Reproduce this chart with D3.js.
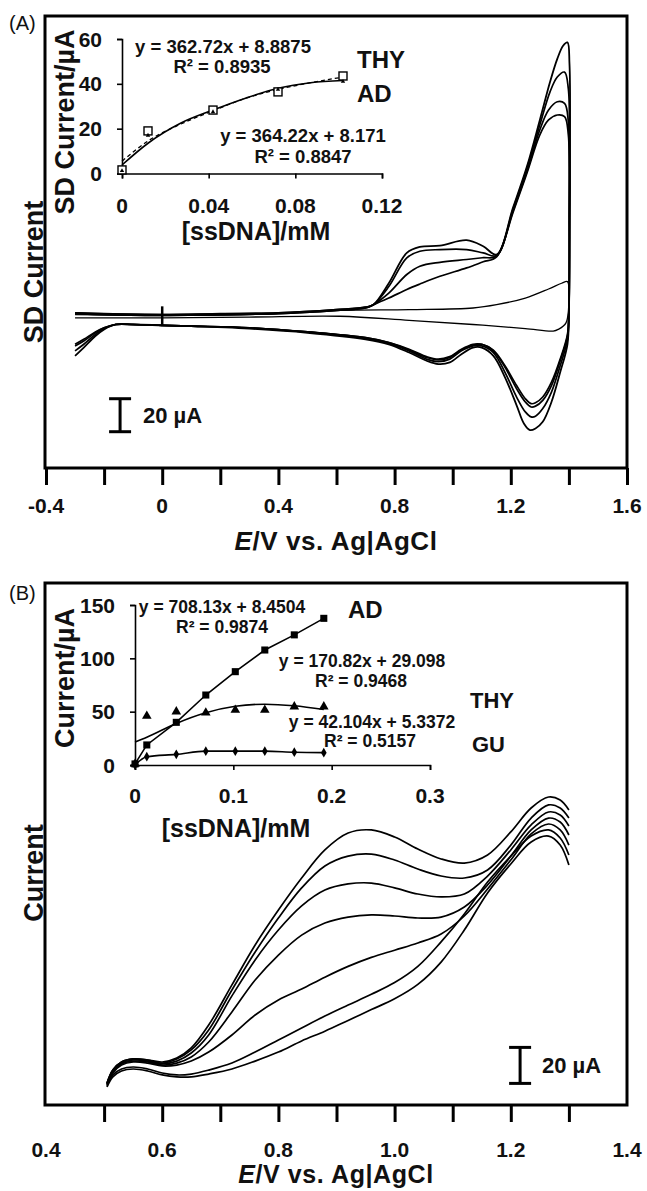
<!DOCTYPE html>
<html><head><meta charset="utf-8">
<script src="https://cdn.jsdelivr.net/npm/d3@7"></script>
<style>body{margin:0;background:#fff}svg{display:block}text{font-family:"Liberation Sans",Arial,Helvetica,sans-serif;fill:#111}</style>
</head><body><svg id="c" width="647" height="1191"></svg>
<script>
// ---------- Panel A: cyclic voltammograms (E in V, I in µA, scale bar 20 µA) ----------
const cv1E = [-0.30,-0.20,0.00,0.20,0.40,0.60,0.70,0.727,0.78,0.842,0.887,0.956,1.048,1.105,1.151,1.208,1.256,1.30,1.335,1.36,1.38,1.395,1.402,1.404,1.403,1.40,1.395,1.37,1.34,1.31,1.285,1.266,1.245,1.22,1.18,1.14,1.10,1.07,1.03,0.99,0.95,0.91,0.85,0.78,0.70,0.50,0.30,0.10,0.00,-0.10,-0.16,-0.20,-0.23,-0.27,-0.30];
const cv1I = [4,3.5,3,3.5,4,6,7.5,9,22,40.4,44,44.8,48.1,44.4,39.4,68,93,121,144,158,166,168,155,110,50,5,-15,-32,-50,-62,-66,-67,-63,-52,-35,-22,-17,-17,-21,-26,-27,-25,-20,-15,-12,-8,-5.5,-4,-3.5,-3,-3,-6,-10,-17,-22];
const cv2E = [-0.30,-0.20,0.00,0.20,0.40,0.60,0.70,0.727,0.78,0.842,0.887,0.956,1.048,1.105,1.151,1.208,1.256,1.30,1.335,1.36,1.385,1.398,1.402,1.402,1.40,1.395,1.37,1.34,1.31,1.285,1.27,1.25,1.22,1.18,1.14,1.10,1.07,1.03,0.99,0.95,0.91,0.85,0.78,0.70,0.50,0.30,0.10,0.00,-0.10,-0.16,-0.20,-0.23,-0.27,-0.30];
const cv2I = [4,3.5,3,3.5,4,6,7.5,9,20,37.4,41.4,42.4,42.4,40.4,38.8,67,92,118,138,147,150,140,100,40,5,-12,-28,-44,-54,-58.6,-59,-56,-47,-32,-20,-16,-16,-19,-24,-25.5,-24,-19,-14.5,-11.5,-7.5,-5,-4,-3.5,-3,-3,-5.5,-9,-15,-19];
const cv3E = [-0.30,-0.20,0.00,0.20,0.40,0.60,0.70,0.727,0.78,0.842,0.887,0.956,1.048,1.105,1.151,1.208,1.256,1.30,1.33,1.36,1.385,1.398,1.401,1.40,1.395,1.37,1.34,1.31,1.285,1.27,1.25,1.22,1.18,1.14,1.10,1.07,1.03,0.99,0.95,0.91,0.85,0.78,0.70,0.50,0.30,0.10,0.00,-0.10,-0.16,-0.20,-0.23,-0.27,-0.30];
const cv3I = [3.5,3,2.5,3,3.5,5.5,7,9,16,27.3,32.3,34.7,36.4,37.5,38.4,66,90,115,127,132,131,120,60,5,-10,-25,-40,-49,-52.5,-53,-50,-42,-29,-19,-15,-15.5,-18.5,-23,-24.5,-23,-18.5,-14,-11,-7.5,-5,-4,-3.5,-3,-3,-5,-8,-13,-16];
const cv4E = cv3E;
const cv4I = [3.5,3,2.5,3,3.5,5.5,7,9,13,18.2,21.5,26.2,31.3,35,38,65,89,112,121,124,123,112,60,5,-9,-24,-38,-47,-50.5,-51,-48,-40,-28,-18.5,-15,-15,-18,-22.5,-24,-22.5,-18,-14,-11,-7.5,-5,-4,-3.5,-3,-3,-5,-7.5,-12,-15];
const blankE = [-0.30,0.00,0.30,0.612,0.85,1.07,1.151,1.25,1.33,1.375,1.395,1.40,1.39,1.363,1.346,1.25,1.07,0.85,0.612,0.30,0.00,-0.30];
const blankI = [3,2.5,3,5.5,6,7,9,13,18.5,22,23,15,-2,-6,-7,-5.5,-3,-0.5,2,1.5,1,1];
const axisA_ticks = [-0.4,-0.2,0,0.2,0.4,0.6,0.8,1.0,1.2,1.4,1.6];
const axisA_labels = [-0.4,0,0.4,0.8,1.2,1.6];

// ---------- Panel A inset ----------
const insA_x = [0,0.012,0.042,0.072,0.102];
const insA_THY = [1.6,19,28.3,36.4,43.5];
const insA_AD = [1.2,17,27.5,37.5,41];
const insA_fitX = [0,0.012,0.027,0.042,0.057,0.072,0.087,0.102];
const insA_fitSolid = [3.8,13.5,22.4,28.3,33.6,38,40.5,41.5];
const insA_fitDash = [5.5,14.5,22,28,33.5,37.5,40.5,43];
const insA_xticks = [0,0.04,0.08,0.12];
const insA_yticks = [0,20,40,60];

// ---------- Panel B: voltammograms (E in V, I in µA) ----------
const dpvE = [0.505,0.515,0.53,0.55,0.575,0.60,0.625,0.65,0.68,0.72,0.76,0.80,0.84,0.88,0.92,0.96,1.0,1.04,1.08,1.12,1.16,1.20,1.235,1.265,1.285,1.30];
const dpvA = [11.7,19.4,23.9,25.6,25.0,23.9,26.1,31.7,44.4,66.7,88.9,108.3,126.1,141.7,151.1,152.8,148.9,142.2,136.7,134.4,138.9,151.7,165.0,171.1,169.4,163.9];
const dpvB = [12.2,19.4,23.9,25.6,25.0,23.3,25.6,30.6,41.7,63.9,85.0,103.9,120.6,132.8,138.3,139.4,136.1,131.1,127.2,126.1,130.6,144.4,159.4,166.7,165.0,159.4];
const dpvC = [12.2,18.9,23.3,25.0,24.4,22.8,24.4,28.9,38.9,60.6,80.6,97.2,110.6,119.4,122.8,123.3,120.6,117.2,115.6,117.2,127.2,141.7,155.6,162.8,161.1,155.0];
const dpvD = [11.7,18.3,22.8,24.4,23.9,22.2,23.3,26.7,35.0,51.7,69.4,83.3,94.4,101.1,104.4,105.6,105.0,103.9,104.4,110.0,122.2,138.3,152.8,159.4,157.2,150.0];
const dpvEc = [11.1,17.8,22.2,23.9,23.3,21.7,22.2,24.4,29.4,38.9,50.0,58.3,64.4,71.0,77.0,82.0,86.0,90.0,95.0,105.0,120.0,136.1,150.6,156.1,152.8,144.4];
const dpvF = [10.6,16.7,20.0,21.1,20.0,17.8,16.7,17.2,19.4,23.3,29.4,36.1,42.8,49.4,55.5,61.5,68.0,77.0,90.6,106.1,123.9,138.3,149.4,152.8,148.3,138.9];
const dpvG = [10.0,15.6,18.9,20.0,18.9,16.7,15.6,15.6,17.2,20.0,24.4,29.4,35.6,41.0,47.0,53.0,59.0,67.0,79.4,97.2,117.8,133.9,146.1,149.4,144.4,133.3];
const axisB_ticks = [0.4,0.5,0.6,0.7,0.8,0.9,1.0,1.1,1.2,1.3,1.4];
const axisB_labels = [0.4,0.6,0.8,1.0,1.2,1.4];

// ---------- Panel B inset ----------
const insB_x = [0,0.012,0.042,0.072,0.102,0.132,0.162,0.192];
const insB_AD = [1,18.8,40,65.6,87.5,107.8,122,137.5];
const insB_THY = [1,46,50,49,51.5,51.5,54.7,54.7];
const insB_GU = [0,7.8,10,13,13,13,12,11.6];
const insB_THYfit = [21.5,26,39,49,55,57,55.5,52];
const insB_xticks = [0,0.1,0.2,0.3];
const insB_yticks = [0,50,100,150];

// ====================================================================
const svg = d3.select("#c");
svg.append("rect").attr("width",647).attr("height",1191).attr("fill","#fff");
const zip = (a,b) => a.map((v,i)=>[v,b[i]]);
const fmt1 = v => v===0 ? "0" : v.toFixed(1);

function frame(x0,y0,x1,y1){
  svg.append("rect").attr("x",x0).attr("y",y0).attr("width",x1-x0).attr("height",y1-y0)
    .attr("fill","none").attr("stroke","#000").attr("stroke-width",3);
}
function mainAxis(x, y0, ticks, labels, lblY, noEnds){
  const tv = noEnds ? ticks.slice(1,-1) : ticks;
  const g = svg.append("g").attr("transform",`translate(0,${y0})`)
    .call(d3.axisBottom(x).tickValues(tv).tickSize(17).tickFormat(""));
  g.select(".domain").remove();
  g.selectAll("line").attr("stroke","#000").attr("stroke-width",3);
  svg.append("g").selectAll("text").data(labels).join("text")
    .attr("x",d=>x(d)).attr("y",lblY).attr("text-anchor","middle")
    .attr("font-size",21).attr("font-weight","bold").text(fmt1);
}

// ---------------- Panel A ----------------
const xA = d3.scaleLinear().domain([-0.4,1.6]).range([46,627]);
const yA = d3.scaleLinear().domain([-90,184]).range([468,16]);
const lineA = d3.line().x(d=>xA(d[0])).y(d=>yA(d[1])).curve(d3.curveCatmullRom.alpha(0.5));
frame(45,16,627,468);
mainAxis(xA,468,axisA_ticks,axisA_labels,513,false);

const cvs = [[blankE,blankI,1.3],[cv4E,cv4I,1.7],[cv3E,cv3I,1.7],[cv2E,cv2I,1.7],[cv1E,cv1I,1.8]];
svg.append("g").selectAll("path").data(cvs).join("path")
  .attr("d",d=>lineA(zip(d[0],d[1]))).attr("fill","none").attr("stroke","#000")
  .attr("stroke-width",d=>d[2]).attr("stroke-linejoin","round");
svg.append("line").attr("x1",xA(0)).attr("x2",xA(0)).attr("y1",yA(8)).attr("y2",yA(-4))
  .attr("stroke","#000").attr("stroke-width",2.5);

function scaleBar(x, y, v0, v1, tx, ty){
  const g = svg.append("g").attr("stroke","#000").attr("stroke-width",3);
  const X = x, Y0 = y(v0), Y1 = y(v1);
  g.append("line").attr("x1",X).attr("x2",X).attr("y1",Y0).attr("y2",Y1);
  g.append("line").attr("x1",X-11).attr("x2",X+11).attr("y1",Y0).attr("y2",Y0);
  g.append("line").attr("x1",X-11).attr("x2",X+11).attr("y1",Y1).attr("y2",Y1);
  svg.append("text").attr("x",tx).attr("y",ty).attr("font-size",22).attr("font-weight","bold").text("20 µA");
}
scaleBar(xA(-0.145), yA, -68, -48, 143, 423);

svg.append("text").attr("transform","translate(43,272) rotate(-90)").attr("text-anchor","middle")
  .attr("font-size",27).attr("font-weight","bold").text("SD Current");
svg.append("text").attr("x",336).attr("y",550).attr("text-anchor","middle")
  .attr("font-size",26).attr("font-weight","bold").attr("letter-spacing",0.6)
  .html('<tspan font-style="italic">E</tspan>/V vs. Ag|AgCl');
svg.append("text").attr("x",9).attr("y",30).attr("font-size",20).text("(A)");

// inset A
const xIA = d3.scaleLinear().domain([0,0.12]).range([122,382]);
const yIA = d3.scaleLinear().domain([0,60]).range([173.5,39]);
const gxa = svg.append("g").attr("transform","translate(0,173.5)")
  .call(d3.axisBottom(xIA).tickValues(insA_xticks).tickSize(5).tickFormat(""));
const gya = svg.append("g").attr("transform","translate(122,0)")
  .call(d3.axisLeft(yIA).tickValues(insA_yticks).tickSize(5).tickFormat(""));
[gxa,gya].forEach(g=>{g.selectAll("path,line").attr("stroke","#000").attr("stroke-width",1.6);});
svg.append("g").selectAll("text").data(insA_xticks).join("text")
  .attr("x",d=>xIA(d)).attr("y",213).attr("text-anchor","middle").attr("font-size",21).attr("font-weight","bold")
  .text(d=>d===0?"0":d.toFixed(2));
svg.append("g").selectAll("text").data(insA_yticks).join("text")
  .attr("x",102).attr("y",d=>yIA(d)+7.5).attr("text-anchor","end").attr("font-size",21).attr("font-weight","bold")
  .text(d=>d);
const lineIA = d3.line().x(d=>xIA(d[0])).y(d=>yIA(d[1])).curve(d3.curveMonotoneX);
svg.append("path").attr("d",lineIA(zip(insA_fitX,insA_fitDash))).attr("fill","none")
  .attr("stroke","#000").attr("stroke-width",1.3).attr("stroke-dasharray","4,3");
svg.append("path").attr("d",lineIA(zip(insA_fitX,insA_fitSolid))).attr("fill","none")
  .attr("stroke","#000").attr("stroke-width",1.6);
svg.append("g").selectAll("rect").data(zip(insA_x,insA_THY)).join("rect")
  .attr("x",d=>xIA(d[0])-4).attr("y",d=>yIA(d[1])-4).attr("width",8).attr("height",8)
  .attr("fill","#fff").attr("stroke","#000").attr("stroke-width",1.4);
svg.append("g").selectAll("path").data(zip(insA_x,insA_AD)).join("path")
  .attr("transform",d=>`translate(${xIA(d[0])},${yIA(d[1])})`)
  .attr("d",d3.symbol(d3.symbolTriangle2,14)).attr("fill","#000");
svg.append("text").attr("transform","translate(74,122) rotate(-90)").attr("text-anchor","middle")
  .attr("font-size",27).attr("font-weight","bold").text("SD Current/µA");
svg.append("text").attr("x",256).attr("y",240).attr("text-anchor","middle")
  .attr("font-size",25).attr("font-weight","bold").text("[ssDNA]/mM");
const eqA = [["y = 362.72x + 8.8875",223,53],["R² = 0.8935",222,73],["y = 364.22x + 8.171",303,142],["R² = 0.8847",303,163]];
svg.append("g").selectAll("text").data(eqA).join("text").attr("x",d=>d[1]).attr("y",d=>d[2])
  .attr("text-anchor","middle").attr("font-size",18.5).attr("font-weight","bold").text(d=>d[0]);
svg.append("text").attr("x",357).attr("y",68).attr("font-size",24).attr("font-weight","bold").text("THY");
svg.append("text").attr("x",357).attr("y",102).attr("font-size",24).attr("font-weight","bold").text("AD");

// ---------------- Panel B ----------------
const xB = d3.scaleLinear().domain([0.4,1.4]).range([46,627]);
const yB = d3.scaleLinear().domain([0,290]).range([1105,583]);
const lineB = d3.line().x(d=>xB(d[0])).y(d=>yB(d[1])).curve(d3.curveCatmullRom.alpha(0.5));
frame(45,583,627,1105);
mainAxis(xB,1105,axisB_ticks,axisB_labels,1157,true);
const dpvs = [dpvA,dpvB,dpvC,dpvD,dpvEc,dpvF,dpvG];
svg.append("g").selectAll("path").data(dpvs).join("path")
  .attr("d",d=>lineB(zip(dpvE,d))).attr("fill","none").attr("stroke","#000").attr("stroke-width",1.7);
scaleBar(xB(1.216), yB, 12, 32, 542, 1073);
svg.append("text").attr("transform","translate(43,873) rotate(-90)").attr("text-anchor","middle")
  .attr("font-size",27).attr("font-weight","bold").text("Current");
svg.append("text").attr("x",336).attr("y",1183).attr("text-anchor","middle")
  .attr("font-size",25).attr("font-weight","bold").attr("letter-spacing",0.6)
  .html('<tspan font-style="italic">E</tspan>/V vs. Ag|AgCl');
svg.append("text").attr("x",9).attr("y",600).attr("font-size",20).text("(B)");

// inset B
const xIB = d3.scaleLinear().domain([0,0.3]).range([135,430]);
const yIB = d3.scaleLinear().domain([0,150]).range([765,605]);
const gxb = svg.append("g").attr("transform","translate(0,765)")
  .call(d3.axisBottom(xIB).tickValues(insB_xticks).tickSize(5).tickFormat(""));
const gyb = svg.append("g").attr("transform","translate(135,0)")
  .call(d3.axisLeft(yIB).tickValues(insB_yticks).tickSize(5).tickFormat(""));
[gxb,gyb].forEach(g=>{g.selectAll("path,line").attr("stroke","#000").attr("stroke-width",1.6);});
svg.append("g").selectAll("text").data(insB_xticks).join("text")
  .attr("x",d=>xIB(d)).attr("y",803).attr("text-anchor","middle").attr("font-size",21).attr("font-weight","bold")
  .text(d=>d===0?"0":d.toFixed(1));
svg.append("g").selectAll("text").data(insB_yticks).join("text")
  .attr("x",115).attr("y",d=>yIB(d)+7.5).attr("text-anchor","end").attr("font-size",21).attr("font-weight","bold")
  .text(d=>d);
const lineIB = d3.line().x(d=>xIB(d[0])).y(d=>yIB(d[1]));
const lineIBs = d3.line().x(d=>xIB(d[0])).y(d=>yIB(d[1])).curve(d3.curveMonotoneX);
svg.append("path").attr("d",lineIB(zip(insB_x,insB_AD))).attr("fill","none").attr("stroke","#000").attr("stroke-width",1.6);
svg.append("path").attr("d",lineIBs(zip(insB_x,insB_THYfit))).attr("fill","none").attr("stroke","#000").attr("stroke-width",1.6);
svg.append("path").attr("d",lineIBs(zip(insB_x,insB_GU))).attr("fill","none").attr("stroke","#000").attr("stroke-width",1.6);
const sym = (data,type,size)=>svg.append("g").selectAll("path").data(data).join("path")
  .attr("transform",d=>`translate(${xIB(d[0])},${yIB(d[1])})`).attr("d",d3.symbol(type,size)).attr("fill","#000");
sym(zip(insB_x,insB_AD),d3.symbolSquare,50);
sym(zip(insB_x,insB_THY),d3.symbolTriangle,40);
sym(zip(insB_x,insB_GU),d3.symbolDiamond,28);
svg.append("text").attr("transform","translate(74,678) rotate(-90)").attr("text-anchor","middle")
  .attr("font-size",27).attr("font-weight","bold").text("Current/µA");
svg.append("text").attr("x",236).attr("y",837).attr("text-anchor","middle")
  .attr("font-size",25).attr("font-weight","bold").text("[ssDNA]/mM");
const eqB = [["y = 708.13x + 8.4504",222,613],["R² = 0.9874",222,633],["y = 170.82x + 29.098",362,667],["R² = 0.9468",361,687],["y = 42.104x + 5.3372",372,728],["R² = 0.5157",370,747]];
svg.append("g").selectAll("text").data(eqB).join("text").attr("x",d=>d[1]).attr("y",d=>d[2])
  .attr("text-anchor","middle").attr("font-size",17.5).attr("font-weight","bold").text(d=>d[0]);
svg.append("text").attr("x",348).attr("y",618).attr("font-size",24).attr("font-weight","bold").text("AD");
svg.append("text").attr("x",470).attr("y",708).attr("font-size",22).attr("font-weight","bold").text("THY");
svg.append("text").attr("x",472).attr("y",752).attr("font-size",22).attr("font-weight","bold").text("GU");
</script></body></html>
